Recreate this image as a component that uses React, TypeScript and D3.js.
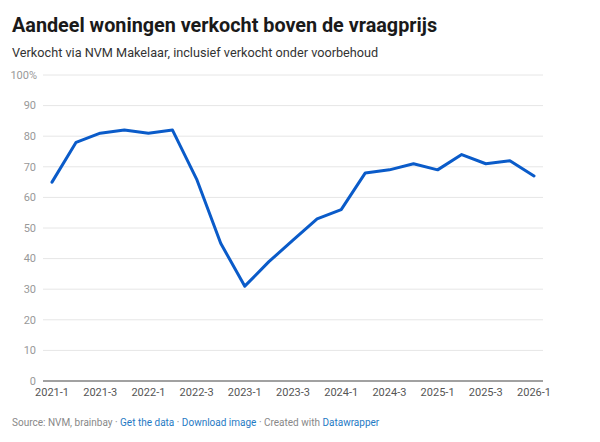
import React, { useEffect } from 'react';
import * as d3 from 'd3';

const quarters = [
  '2021-1', '2021-2', '2021-3', '2021-4',
  '2022-1', '2022-2', '2022-3', '2022-4',
  '2023-1', '2023-2', '2023-3', '2023-4',
  '2024-1', '2024-2', '2024-3', '2024-4',
  '2025-1', '2025-2', '2025-3', '2025-4',
  '2026-1',
];
const shareAbove = [65, 78, 81, 82, 81, 82, 66, 45, 31, 39, 46, 53, 56, 68, 69, 71, 69, 74, 71, 72, 67];
const xTickLabels = ['2021-1', '2021-3', '2022-1', '2022-3', '2023-1', '2023-3', '2024-1', '2024-3', '2025-1', '2025-3', '2026-1'];
const yTicks = [0, 10, 20, 30, 40, 50, 60, 70, 80, 90, 100];

const W = 600;
const H = 442;
const FONT = 'Roboto, "Noto Sans", sans-serif';

const App: React.FC = () => {
  useEffect(() => {
    document.body.style.margin = '0';
  }, []);

  const x = d3.scalePoint<string>().domain(quarters).range([52, 534]);
  const y = d3.scaleLinear().domain([0, 100]).range([381, 75]);

  const line = d3.line<number>()
    .x((_, i) => x(quarters[i]) as number)
    .y(d => y(d));

  return (
    <svg width={W} height={H} style={{ display: 'block', background: '#fff', fontFamily: FONT }}>
      <text x={12} y={32} fontSize={19.8} fontWeight={700} fill="#1a1a1a">
        Aandeel woningen verkocht boven de vraagprijs
      </text>
      <text x={12} y={57} fontSize={12.7} fill="#333">
        Verkocht via NVM Makelaar, inclusief verkocht onder voorbehoud
      </text>

      {/* gridlines + y labels */}
      {yTicks.map(t => (
        <g key={t}>
          {t > 0 && (
            <line x1={43} x2={543} y1={y(t)} y2={y(t)} stroke="#e6e6e6" strokeWidth={1} />
          )}
          <text x={t === 100 ? 37 : 36} y={y(t)} dy="0.35em" textAnchor="end" fontSize={11} fill="#999">
            {t === 100 ? '100%' : t}
          </text>
        </g>
      ))}
      <line x1={43} x2={543} y1={y(0)} y2={y(0)} stroke="#444" strokeWidth={1.2} />

      {/* x labels */}
      {xTickLabels.map(q => (
        <text key={q} x={x(q)} y={396} textAnchor="middle" fontSize={11} fill="#555">
          {q}
        </text>
      ))}

      <path
        d={line(shareAbove) || ''}
        fill="none"
        stroke="#0a5bc9"
        strokeWidth={3}
        strokeLinejoin="round"
        strokeLinecap="round"
      />

      <text x={12} y={426} fontSize={10} fill="#888">
        <tspan>Source: NVM, brainbay · </tspan>
        <tspan fill="#1f7ac4">Get the data</tspan>
        <tspan> · </tspan>
        <tspan fill="#1f7ac4">Download image</tspan>
        <tspan> · Created with </tspan>
        <tspan fill="#1f7ac4">Datawrapper</tspan>
      </text>
    </svg>
  );
};

export default App;
